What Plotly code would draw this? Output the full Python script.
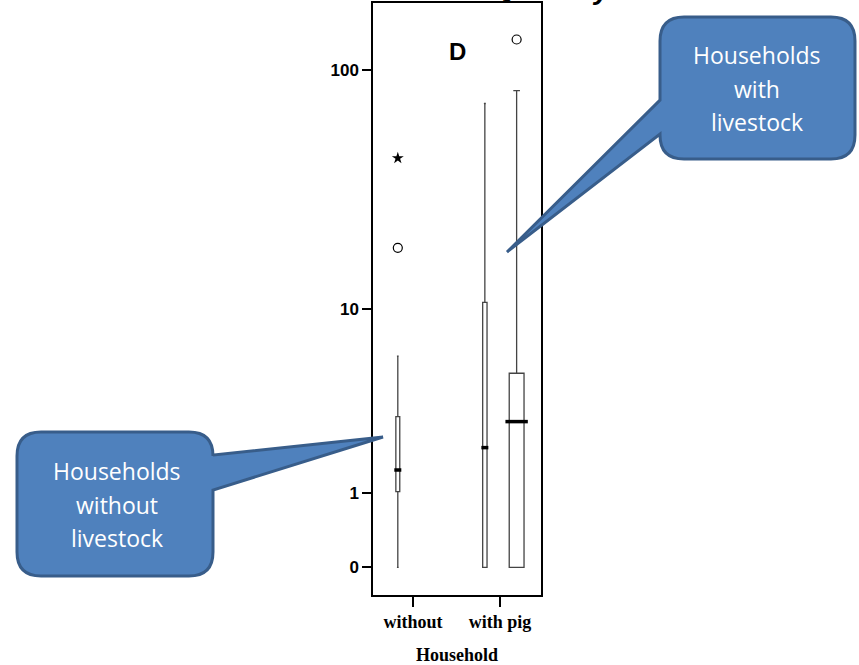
import plotly.graph_objects as go

# ---------------- data ----------------
CATEGORIES = ["without", "with pig"]
TICK_VALUES = [0, 1, 10, 100]
TICK_LABELS = ["0", "1", "10", "100"]

# series 1 (narrow boxes) per category
S1_Q1 = [1.02, 0.0]
S1_MEDIAN = [1.47, 2.04]
S1_Q3 = [3.05, 10.7]
S1_LOW = [0.0, 0.0]
S1_HIGH = [6.1, 73.0]
S1_OUTLIERS = [[18.4], []]
S1_EXTREMES = [[43.6], []]

# series 2 (wide box) per category (None = no box)
S2_Q1 = [None, 0.0]
S2_MEDIAN = [None, 2.87]
S2_Q3 = [None, 5.06]
S2_LOW = [None, 0.0]
S2_HIGH = [None, 82.4]
S2_OUTLIERS = [[], [133.0]]
S2_EXTREMES = [[], []]

CALLOUT_TOP = ["Households", "with", "livestock"]
CALLOUT_BOTTOM = ["Households", "without", "livestock"]
PANEL_LABEL = "D"
X_TITLE = "Household"

# ---------------- style ----------------
W, H = 859, 665
OFFSET = 1.0                     # log(value + 1) scale
SERIES_SHIFT = [-0.175, 0.19]    # group offsets
BOX_W = [[0.045, 0.05], [None, 0.17]]
MEDIAN_PX = [[5, 5], [None, 16]]
BOX_LINE = "#444444"

def px(x):
    return x / W

def py(y):
    return 1 - y / H

fig = go.Figure()

series = [
    (S1_Q1, S1_MEDIAN, S1_Q3, S1_LOW, S1_HIGH, S1_OUTLIERS, S1_EXTREMES),
    (S2_Q1, S2_MEDIAN, S2_Q3, S2_LOW, S2_HIGH, S2_OUTLIERS, S2_EXTREMES),
]

for si, (q1s, meds, q3s, lows, highs, outs, exts) in enumerate(series):
    for ci, cat in enumerate(CATEGORIES):
        if q1s[ci] is None:
            continue
        xpos = ci + SERIES_SHIFT[si]
        fig.add_trace(go.Box(
            x=[xpos],
            q1=[q1s[ci] + OFFSET], median=[meds[ci] + OFFSET], q3=[q3s[ci] + OFFSET],
            lowerfence=[lows[ci] + OFFSET], upperfence=[highs[ci] + OFFSET],
            width=BOX_W[si][ci], whiskerwidth=0.45,
            fillcolor="white", line=dict(color=BOX_LINE, width=1.3),
            boxpoints=False, showlegend=False, hoverinfo="skip",
        ))
        # thick median bar
        fig.add_trace(go.Scatter(
            x=[xpos], y=[meds[ci] + OFFSET], mode="markers",
            marker=dict(symbol="line-ew", size=MEDIAN_PX[si][ci],
                        line=dict(color="black", width=3.5)),
            showlegend=False, hoverinfo="skip",
        ))
        if outs[ci]:
            fig.add_trace(go.Scatter(
                x=[xpos] * len(outs[ci]), y=[v + OFFSET for v in outs[ci]],
                mode="markers",
                marker=dict(symbol="circle-open", size=9, color="black",
                            line=dict(color="black", width=1.2)),
                showlegend=False, hoverinfo="skip",
            ))
        if exts[ci]:
            fig.add_trace(go.Scatter(
                x=[xpos] * len(exts[ci]), y=[v + OFFSET for v in exts[ci]],
                mode="markers",
                marker=dict(symbol="star", size=9, color="black",
                            line=dict(color="black", width=0)),
                showlegend=False, hoverinfo="skip",
            ))

# ---------------- callout shapes ----------------
def callout(x0, y0, x1, y1, r, side, b0, b1, tip):
    def P(x, y):
        return f"{px(x):.5f},{py(y):.5f}"
    d = f"M {P(x0 + r, y0)} L {P(x1 - r, y0)} Q {P(x1, y0)} {P(x1, y0 + r)} "
    if side == "right":
        d += f"L {P(x1, b0)} L {P(*tip)} L {P(x1, b1)} "
    d += f"L {P(x1, y1 - r)} Q {P(x1, y1)} {P(x1 - r, y1)} L {P(x0 + r, y1)} "
    d += f"Q {P(x0, y1)} {P(x0, y1 - r)} "
    if side == "left":
        d += f"L {P(x0, b1)} L {P(*tip)} L {P(x0, b0)} "
    d += f"L {P(x0, y0 + r)} Q {P(x0, y0)} {P(x0 + r, y0)} Z"
    return dict(type="path", path=d, xref="paper", yref="paper",
                fillcolor="#4f81bd", line=dict(color="#385d8a", width=3),
                layer="above")

shapes = [
    callout(660, 17, 855, 159, 24, "left", 100, 134, (507, 252)),
    callout(17, 432, 213, 576, 24, "right", 455, 490, (383, 437)),
]

annotations = []
callout_font = dict(family="Open Sans", size=23, color="white")
for line, yy in zip(CALLOUT_TOP, [55, 89, 122]):
    annotations.append(dict(text=line, x=px(757), y=py(yy), xref="paper", yref="paper",
                            showarrow=False, font=callout_font,
                            xanchor="center", yanchor="middle"))
for line, yy in zip(CALLOUT_BOTTOM, [471, 505, 538]):
    annotations.append(dict(text=line, x=px(117), y=py(yy), xref="paper", yref="paper",
                            showarrow=False, font=callout_font,
                            xanchor="center", yanchor="middle"))

annotations += [
    dict(text=PANEL_LABEL, x=px(457), y=py(52), xref="paper", yref="paper",
         showarrow=False, font=dict(family="Liberation Sans", size=24, color="black",
                                    weight="bold"),
         xanchor="center", yanchor="middle"),
    dict(text="y", x=px(511), y=py(-12), xref="paper", yref="paper",
         showarrow=False, font=dict(family="Liberation Sans", size=28, color="black",
                                    weight="bold", style="italic"),
         xanchor="center", yanchor="middle"),
    dict(text="y", x=px(601), y=py(-10), xref="paper", yref="paper",
         showarrow=False, font=dict(family="Liberation Sans", size=28, color="black",
                                    weight="bold", style="italic"),
         xanchor="center", yanchor="middle"),
]

fig.update_layout(
    width=W, height=H,
    margin=dict(l=0, r=0, t=0, b=0),
    paper_bgcolor="white", plot_bgcolor="white",
    shapes=shapes, annotations=annotations,
    showlegend=False,
    xaxis=dict(
        domain=[px(373), px(541)],
        range=[-0.46, 1.47],
        tickmode="array", tickvals=list(range(len(CATEGORIES))), ticktext=CATEGORIES,
        ticks="outside", ticklen=10, tickwidth=1.5, tickcolor="black",
        showline=True, mirror=True, linecolor="black", linewidth=1.5,
        showgrid=False, zeroline=False,
        tickfont=dict(family="Liberation Serif", size=18, color="black", weight="bold"),
        title=dict(text=X_TITLE, standoff=17,
                   font=dict(family="Liberation Serif", size=18, color="black",
                             weight="bold")),
    ),
    yaxis=dict(
        domain=[py(595), py(3)],
        type="log",
        range=[-0.1109, 2.2742],
        tickmode="array", tickvals=[v + OFFSET for v in TICK_VALUES], ticktext=TICK_LABELS,
        ticks="outside", ticklen=9, tickwidth=1.5, tickcolor="black",
        showline=True, mirror=True, linecolor="black", linewidth=1.5,
        showgrid=False, zeroline=False,
        tickfont=dict(family="Liberation Sans Narrow, Liberation Sans", size=17,
                      color="black", weight="bold"),
    ),
)

fig.write_html("out.html")
